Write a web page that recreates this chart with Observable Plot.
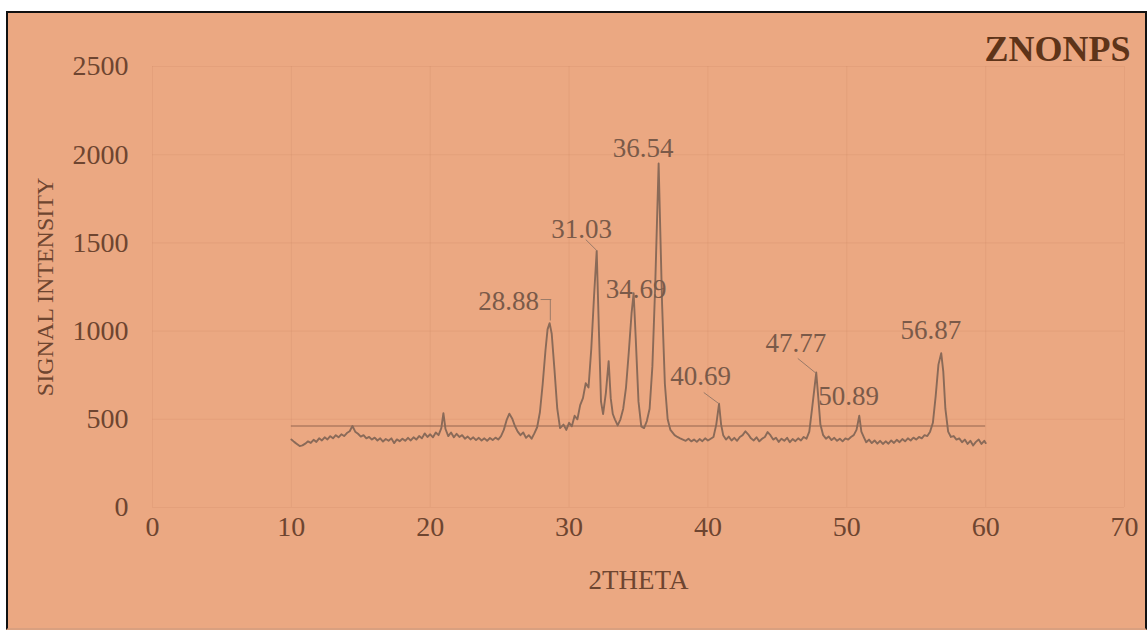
<!DOCTYPE html>
<html><head><meta charset="utf-8">
<script src="https://cdn.jsdelivr.net/npm/d3@7"></script>
<script src="https://cdn.jsdelivr.net/npm/@observablehq/plot@0.6"></script>
<style>
html,body{margin:0;padding:0;background:#fff;width:1147px;height:630px;overflow:hidden;}
#frame{position:absolute;left:6px;top:11px;width:1137px;height:615px;border:2px solid #111;border-bottom-color:#d9a080;background:#EBA882;}
#chart{position:absolute;left:0;top:0;}
</style></head><body><div id="frame"></div><div id="chart"></div>
<script>
const chartTitle = "ZNONPS";
const xTitle = "2THETA";
const yTitle = "SIGNAL INTENSITY";
const xTicks = [0,10,20,30,40,50,60,70];
const yTicks = [0,500,1000,1500,2000,2500];

const twoTheta = [
  10.0,10.2,10.4,10.6,10.8,11.0,11.2,11.4,11.6,11.8,
  12.0,12.2,12.4,12.6,12.8,13.0,13.2,13.4,13.6,13.8,
  14.0,14.2,14.4,14.6,14.8,15.0,15.2,15.4,15.6,15.8,
  16.0,16.2,16.4,16.6,16.8,17.0,17.2,17.4,17.6,17.8,
  18.0,18.2,18.4,18.6,18.8,19.0,19.2,19.4,19.6,19.8,
  20.0,20.2,20.4,20.6,20.8,20.95,21.1,21.3,21.5,21.7,
  21.9,22.1,22.3,22.5,22.7,22.9,23.1,23.3,23.5,23.7,
  23.9,24.1,24.3,24.5,24.7,24.9,25.1,25.3,25.5,25.7,
  25.9,26.1,26.3,26.5,26.7,26.9,27.1,27.3,27.5,27.7,
  27.9,28.1,28.3,28.45,28.6,28.75,28.95,29.15,29.35,29.6,
  29.8,30.0,30.2,30.4,30.6,30.8,31.0,31.2,31.4,31.6,
  31.8,31.99,32.15,32.3,32.45,32.65,32.85,33.0,33.15,33.3,
  33.5,33.7,33.9,34.1,34.3,34.5,34.65,34.8,35.0,35.2,
  35.4,35.6,35.8,36.0,36.2,36.45,36.7,36.9,37.1,37.3,
  37.6,37.8,38.0,38.2,38.4,38.6,38.8,39.0,39.2,39.4,
  39.6,39.8,40.0,40.2,40.4,40.6,40.8,40.95,41.1,41.3,
  41.5,41.7,41.9,42.1,42.3,42.5,42.7,42.9,43.1,43.3,
  43.5,43.7,43.9,44.1,44.3,44.5,44.7,44.9,45.1,45.3,
  45.5,45.7,45.9,46.1,46.3,46.5,46.7,46.9,47.1,47.3,
  47.5,47.8,47.95,48.1,48.3,48.5,48.7,48.9,49.1,49.3,
  49.5,49.7,49.9,50.1,50.3,50.5,50.7,50.9,51.05,51.25,
  51.4,51.6,51.8,52.0,52.2,52.4,52.6,52.8,53.0,53.2,
  53.4,53.6,53.8,54.0,54.2,54.4,54.6,54.8,55.0,55.2,
  55.4,55.6,55.8,56.0,56.2,56.4,56.6,56.8,56.95,57.1,
  57.3,57.5,57.7,57.9,58.1,58.3,58.5,58.7,58.9,59.1,
  59.3,59.5,59.7,59.9,60.0
];
const intensity = [
  385,372,360,348,352,362,375,366,384,372,
  392,380,398,386,404,392,410,398,415,405,
  422,432,462,430,418,402,410,392,400,385,
  396,380,392,374,388,378,392,365,386,376,
  390,378,395,380,398,385,405,392,420,400,
  415,398,425,410,450,535,445,405,425,398,
  418,400,410,390,402,386,398,382,395,380,
  392,378,394,382,396,385,405,440,495,532,
  505,462,430,410,425,395,410,390,420,455,
  540,700,890,1010,1045,985,780,560,450,470,
  440,480,460,520,500,580,620,705,680,900,
  1200,1455,1000,600,530,650,830,620,530,500,
  465,500,560,680,880,1100,1215,960,600,460,
  450,490,560,800,1250,1950,1150,700,500,440,
  410,400,392,385,378,390,375,385,372,388,
  376,392,380,390,400,470,588,470,410,385,
  402,380,395,378,400,410,432,415,392,380,
  398,375,390,400,428,410,385,395,372,390,
  378,395,370,388,376,392,380,400,390,430,
  560,765,620,470,410,390,402,382,395,378,
  390,375,392,385,400,410,440,520,430,395,
  370,385,365,380,362,378,360,375,362,380,
  366,384,370,388,375,392,380,396,385,400,
  392,410,405,430,480,630,810,875,770,560,
  430,400,405,385,392,370,385,360,378,352,
  372,385,360,378,365
];

const referenceLevel = 462;
const referenceRange = [10, 60];

const peakNames = ["28.88","31.03","34.69","36.54","40.69","47.77","50.89","56.87"];
const peakLabelX = [25.65, 30.9, 34.83, 35.34, 39.48, 46.33, 50.14, 56.05];
const peakLabelY = [1168, 1576, 1236, 2035, 743, 930, 629, 1003];

// leader lines: [x1, y1, x2, y2] in data units
const leaderX1 = [27.95, 28.65, 31.2, 39.7, 46.47];
const leaderY1 = [1179, 1179, 1519, 652, 845];
const leaderX2 = [28.72, 28.65, 31.99, 40.8, 47.77];
const leaderY2 = [1179, 1060, 1457, 588, 762];

const scan = twoTheta.map((x, i) => ({x, y: intensity[i]}));
const labels = peakNames.map((t, i) => ({t, x: peakLabelX[i], y: peakLabelY[i]}));
const leaders = leaderX1.map((x1, i) => ({x1, y1: leaderY1[i], x2: leaderX2[i], y2: leaderY2[i]}));

const serif = "'Liberation Serif', 'DejaVu Serif', serif";
const ink = "#6e4530";
const chart = Plot.plot({
  width: 1147, height: 630,
  marginLeft: 152, marginRight: 23, marginTop: 66, marginBottom: 123,
  style: {background: "transparent", fontFamily: serif, fontSize: "28px", color: ink},
  x: {domain: [0, 70], ticks: xTicks},
  y: {domain: [0, 2500], ticks: yTicks},
  marks: [
    Plot.gridX(xTicks, {stroke: "#c9835f", strokeOpacity: 0.2, strokeWidth: 1}),
    Plot.gridY(yTicks, {stroke: "#c9835f", strokeOpacity: 0.2, strokeWidth: 1}),
    Plot.axisX(xTicks, {tickSize: 0, tickPadding: 9, fontSize: 28, fill: ink, label: null, tickFormat: d => String(d)}),
    Plot.axisY(yTicks, {tickSize: 0, tickPadding: 24, fontSize: 28, fill: ink, label: null, tickFormat: d => String(d)}),
    Plot.ruleY([referenceLevel], {x1: referenceRange[0], x2: referenceRange[1], stroke: "#94654f", strokeWidth: 1}),
    Plot.line(scan, {x: "x", y: "y", stroke: "#8a6a58", strokeWidth: 1.9}),
    Plot.link(leaders, {x1: "x1", y1: "y1", x2: "x2", y2: "y2", stroke: "#9a7a68", strokeWidth: 1}),
    Plot.text(labels, {x: "x", y: "y", text: "t", fontSize: 27, fill: "#7a5a49", textAnchor: "middle", lineAnchor: "middle"}),
    Plot.text([chartTitle], {text: d => d, frameAnchor: "top-right", dx: 6, dy: -17, fontSize: 36, fontWeight: "bold", fill: "#5e3419", textAnchor: "end", lineAnchor: "middle"}),
    Plot.text([yTitle], {text: d => d, frameAnchor: "left", dx: -107, rotate: -90, fontSize: 24, fill: ink, textAnchor: "middle", lineAnchor: "middle"}),
    Plot.text([xTitle], {text: d => d, frameAnchor: "bottom", dy: 73, fontSize: 27, fill: ink, textAnchor: "middle", lineAnchor: "middle"})
  ]
});
document.getElementById("chart").appendChild(chart);
</script></body></html>
